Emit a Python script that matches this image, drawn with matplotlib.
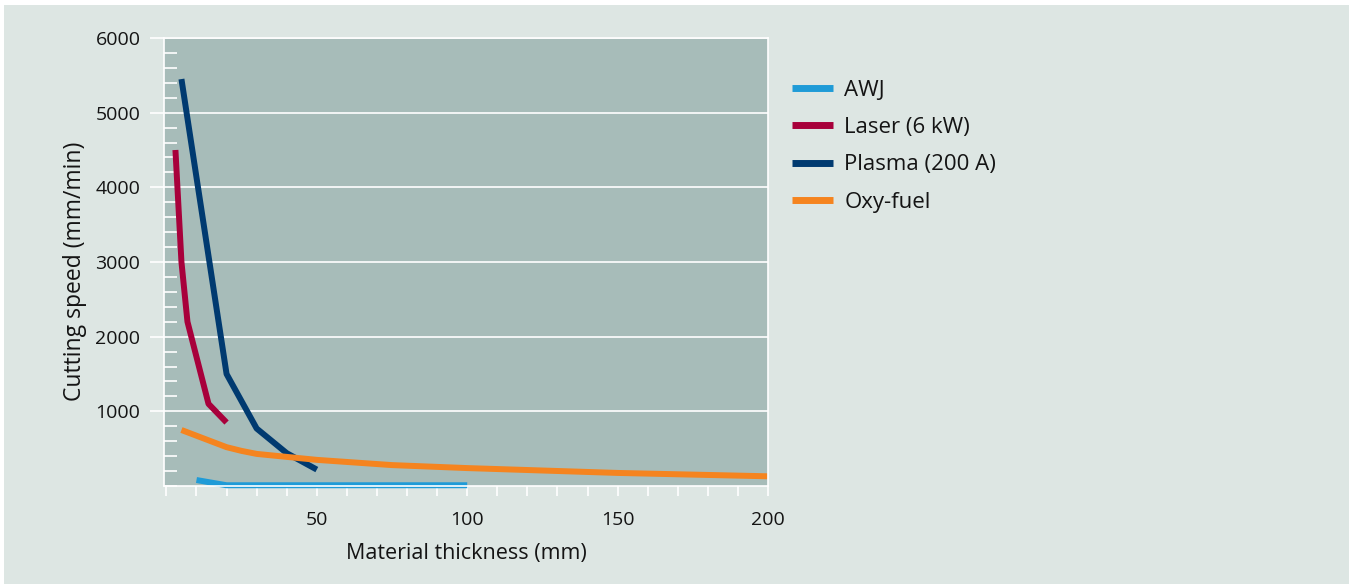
import matplotlib
matplotlib.use('Agg')
from matplotlib import pyplot as plt
from matplotlib.patches import Rectangle
from matplotlib.ticker import MultipleLocator, FixedLocator

# values
awj_x = [10, 20, 100]
awj_y = [80, 10, 10]

laser_x = [3, 5, 7, 14, 20]
laser_y = [4500, 3000, 2200, 1100, 850]

plasma_x = [5, 20, 30, 40, 50]
plasma_y = [5450, 1500, 770, 440, 220]

oxy_x = [5, 20, 25, 30, 40, 50, 75, 100, 150, 200]
oxy_y = [750, 520, 470, 430, 390, 350, 280, 240, 175, 130]

series_names = ['AWJ', 'Laser (6 kW)', 'Plasma (200 A)', 'Oxy-fuel']
series_colors = ['#1f9bd7', '#a8003b', '#003a70', '#f5841f']

plt.rcParams['font.family'] = ['Open Sans', 'DejaVu Sans']

W, H = 1349, 584
fig = plt.figure(figsize=(W / 100, H / 100), dpi=100, facecolor='white')
fig.patches.append(Rectangle((4 / W, 0), 1, 1 - 5 / H, transform=fig.transFigure,
                             facecolor='#dde6e3', edgecolor='none', zorder=-10))

ax = fig.add_axes([164 / W, 1 - 486 / H, (768 - 164) / W, (486 - 38) / H])
ax.set_facecolor('#a7bcb9')

lw = 4.3
ax.plot(awj_x, awj_y, color=series_colors[0], lw=lw, label=series_names[0], solid_capstyle='butt', clip_on=False)
ax.plot(laser_x, laser_y, color=series_colors[1], lw=lw, label=series_names[1], solid_capstyle='butt')
ax.plot(plasma_x, plasma_y, color=series_colors[2], lw=lw, label=series_names[2], solid_capstyle='butt')
ax.plot(oxy_x, oxy_y, color=series_colors[3], lw=lw, label=series_names[3], solid_capstyle='butt')

ax.set_xlim(-0.8, 200)
ax.set_ylim(0, 6000)

ax.yaxis.set_major_locator(FixedLocator([1000, 2000, 3000, 4000, 5000, 6000]))
ax.yaxis.set_minor_locator(MultipleLocator(200))
ax.xaxis.set_major_locator(FixedLocator([50, 100, 150, 200]))
ax.xaxis.set_minor_locator(MultipleLocator(10))

ax.grid(axis='y', which='major', color='white', lw=1.2)
ax.set_axisbelow(True)
for s in ax.spines.values():
    s.set_color('white')
    s.set_linewidth(1.2)

txt = '#141414'
ax.tick_params(axis='y', which='major', direction='out', length=10, width=1.2,
               color='white', labelsize=14, labelcolor=txt, pad=7)
ax.tick_params(axis='y', which='minor', direction='in', length=9, width=1.2, color='white')
ax.tick_params(axis='x', which='both', direction='out', length=7, width=1.2,
               color='white', labelsize=14, labelcolor=txt, pad=11)

ax.set_xlabel('Material thickness (mm)', fontsize=15.5, color=txt, labelpad=10)
ax.set_ylabel('Cutting speed (mm/min)', fontsize=16.5, color=txt)
ax.yaxis.set_label_coords(-0.127, 0.48)

leg = ax.legend(loc='upper left', bbox_to_anchor=(792 / W, 1 - 80 / H),
                bbox_transform=fig.transFigure, frameon=False, fontsize=16,
                handlelength=1.85, handletextpad=0.5, labelspacing=0.73,
                borderpad=0, borderaxespad=0)
for t in leg.get_texts():
    t.set_color(txt)
for h in leg.legend_handles:
    h.set_linewidth(5)

fig.savefig('out.png', dpi=100, facecolor=fig.get_facecolor())
